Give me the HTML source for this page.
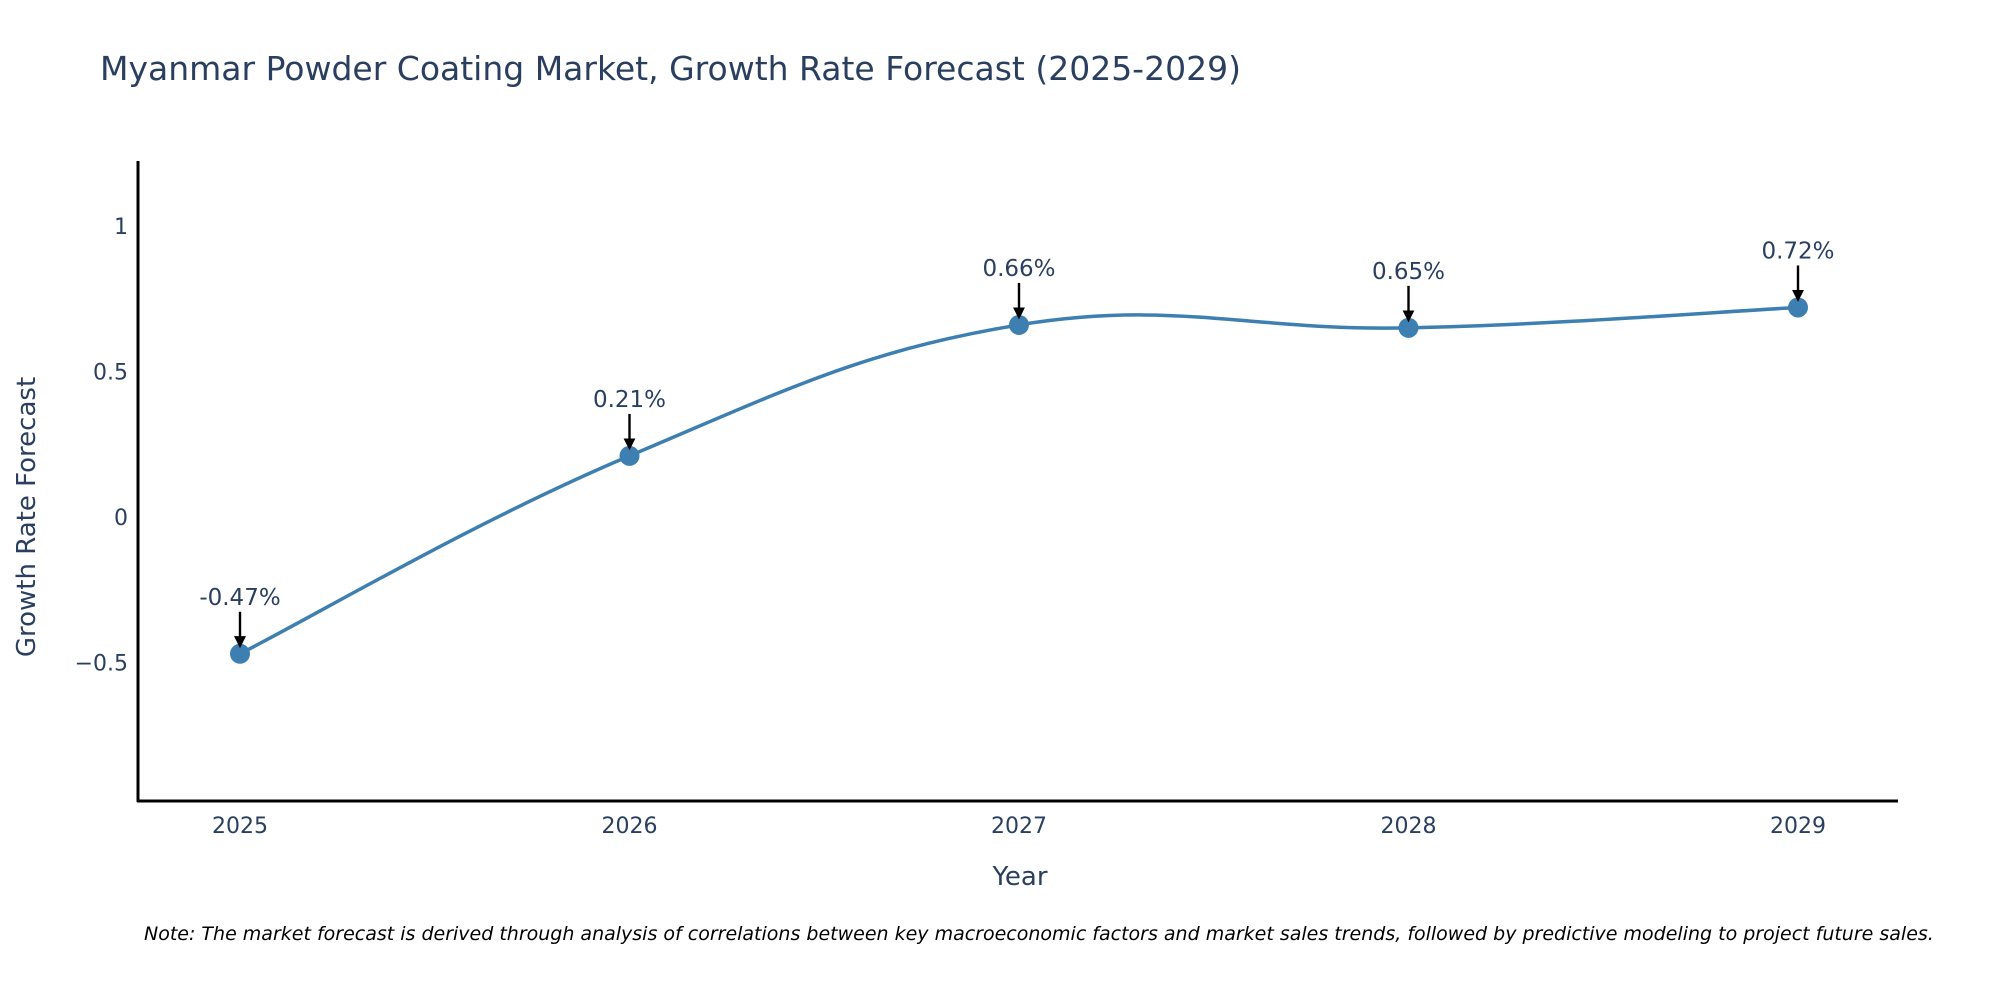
<!DOCTYPE html>
<html><head><meta charset="utf-8"><style>
body{margin:0;background:#fff;}
svg text{font-family:"DejaVu Sans","Liberation Sans",sans-serif;fill:#2a3f5f;}
</style></head><body>
<svg id="chart" width="2000" height="1000" xmlns="http://www.w3.org/2000/svg">
<defs><marker id="ah" markerWidth="5" markerHeight="5" refX="4" refY="2.5" orient="auto" markerUnits="strokeWidth"><path d="M0,0 L5,2.5 L0,5 z" fill="#000"/></marker></defs>
<text x="100" y="80" font-size="33">Myanmar Powder Coating Market, Growth Rate Forecast (2025-2029)</text>
<g id="plot"></g>
<line x1="138" y1="161" x2="138" y2="802" stroke="#000" stroke-width="3"/>
<line x1="137" y1="801" x2="1898" y2="801" stroke="#000" stroke-width="3"/>
<text x="1020" y="885" font-size="26" text-anchor="middle">Year</text>
<text transform="translate(35,517) rotate(-90)" font-size="26" text-anchor="middle">Growth Rate Forecast</text>
<text x="144" y="940" font-size="19" font-style="italic" style="fill:#000">Note: The market forecast is derived through analysis of correlations between key macroeconomic factors and market sales trends, followed by predictive modeling to project future sales.</text>
</svg>
<script>
const years = [2025, 2026, 2027, 2028, 2029];
const values = [-0.47, 0.21, 0.66, 0.65, 0.72];
const labels = ["-0.47%", "0.21%", "0.66%", "0.65%", "0.72%"];
const yTicks = [-0.5, 0, 0.5, 1];
const yTickLabels = ["\u22120.5", "0", "0.5", "1"];
const NS = "http://www.w3.org/2000/svg";
const g = document.getElementById('plot');
function xs(yr){ return 240 + (yr - 2025) * 389.5; }
function ys(v){ return 517 - 291 * v; }
function mk(tag, attrs){ const e = document.createElementNS(NS, tag); for (const k in attrs) e.setAttribute(k, attrs[k]); g.appendChild(e); return e; }
yTicks.forEach((t, i) => {
  const e = mk('text', {x: 128, y: ys(t) + 8, 'font-size': 22, 'text-anchor': 'end'});
  e.textContent = yTickLabels[i];
  
  
});
years.forEach(yr => {
  const e = mk('text', {x: xs(yr), y: 833, 'font-size': 22, 'text-anchor': 'middle'});
  e.textContent = String(yr);
  
  
});
const pts = years.map((yr, i) => [xs(yr), ys(values[i])]);
let d = 'M' + pts[0][0] + ',' + pts[0][1];
const s = 0.2;
for (let i = 0; i < pts.length - 1; i++) {
  const p0 = pts[Math.max(0, i - 1)], p1 = pts[i], p2 = pts[i + 1], p3 = pts[Math.min(pts.length - 1, i + 2)];
  const c1 = [p1[0] + (p2[0] - p0[0]) * s, p1[1] + (p2[1] - p0[1]) * s];
  const c2 = [p2[0] - (p3[0] - p1[0]) * s, p2[1] - (p3[1] - p1[1]) * s];
  d += ' C' + c1[0] + ',' + c1[1] + ' ' + c2[0] + ',' + c2[1] + ' ' + p2[0] + ',' + p2[1];
}
const line = mk('path', {d: d, fill: 'none', stroke: '#3d7fb1', 'stroke-width': 3.5});


pts.forEach((p, i) => {
  const c = mk('circle', {cx: p[0], cy: p[1], r: 10, fill: '#3d7fb1'});
  
  
  const a = mk('line', {x1: p[0], y1: p[1] - 42, x2: p[0], y2: p[1] - 8, stroke: '#000', 'stroke-width': 2.4, 'marker-end': 'url(#ah)'});
  
  
  const t = mk('text', {x: p[0], y: p[1] - 49, 'font-size': 23, 'text-anchor': 'middle'});
  t.textContent = labels[i];
  
  
});
</script>
</body></html>
